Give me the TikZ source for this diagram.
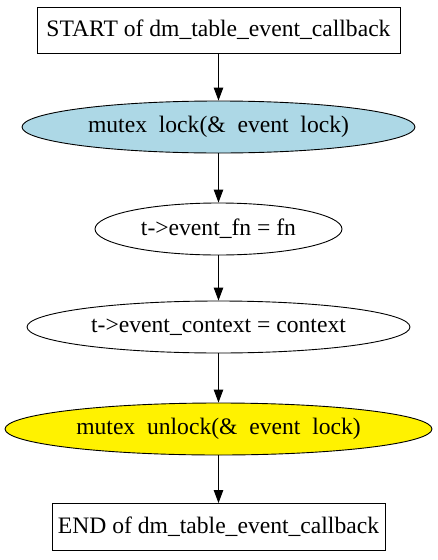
\documentclass[tikz,border=0pt]{standalone}
\usepackage{fontspec}
\setmainfont{Liberation Serif}
\usetikzlibrary{shapes.geometric,arrows.meta}
\begin{document}
\begin{tikzpicture}[x=1pt,y=-1pt,
  every node/.style={font=\fontsize{23.6}{28}\selectfont, inner sep=0pt},
  boxnode/.style={draw, rectangle, line width=0.9pt},
  ellnode/.style={draw, ellipse, line width=0.9pt},
  conn/.style={line width=0.9pt, -{Triangle[length=13pt,width=9.5pt]}}]
\useasboundingbox (0,0) rectangle (437,560);
\node[boxnode, minimum width=363pt, minimum height=46pt] (start) at (218.5,30) {START of dm\_table\_event\_callback};
\node[ellnode, fill={rgb,255:red,173;green,216;blue,230}, minimum width=393pt, minimum height=52pt] (lock) at (218.5,127) {mutex\ \ lock(\&\ \ event\ \ lock)};
\node[ellnode, minimum width=247pt, minimum height=52pt] (fn) at (218.5,229) {t->event\_fn = fn};
\node[ellnode, minimum width=383pt, minimum height=52pt] (ctx) at (218.5,327) {t->event\_context = context};
\node[ellnode, fill=yellow, minimum width=427pt, minimum height=52pt] (unlock) at (218.5,429) {mutex\ \ unlock(\&\ \ event\ \ lock)};
\node[boxnode, minimum width=333pt, minimum height=47pt] (end) at (218.5,527) {END of dm\_table\_event\_callback};
\draw[conn] (start) -- (lock);
\draw[conn] (lock) -- (fn);
\draw[conn] (fn) -- (ctx);
\draw[conn] (ctx) -- (unlock);
\draw[conn] (unlock) -- (end);
\end{tikzpicture}
\end{document}
